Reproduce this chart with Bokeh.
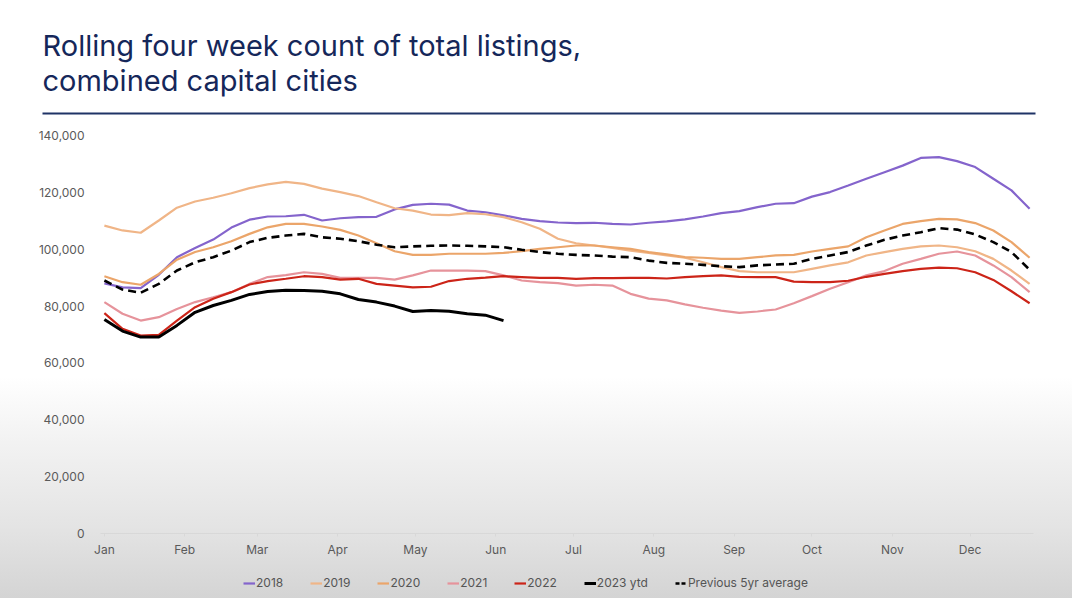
import pandas as pd
from bokeh.plotting import figure
from bokeh.models import (Range1d, MonthsTicker, DatetimeTickFormatter, NumeralTickFormatter,
                          FixedTicker, Legend, LegendItem, ColumnDataSource)
from bokeh.layouts import column
from bokeh.embed import file_html
from bokeh.resources import INLINE

# ---- data (thousands of listings, weekly, rolling four week count) ----
weeks = pd.date_range("2023-01-01", periods=52, freq="7D")

y2018 = [88.0, 86.6, 86.3, 91.0, 97.2, 100.4, 103.4, 107.6, 110.4, 111.5, 111.6, 112.1, 110.1,
         110.9, 111.3, 111.4, 114.0, 115.6, 116.0, 115.7, 113.6, 113.0, 111.9, 110.7, 109.9, 109.4,
         109.2, 109.3, 108.9, 108.7, 109.3, 109.8, 110.5, 111.5, 112.7, 113.4, 114.8, 116.0, 116.2,
         118.5, 120.1, 122.4, 124.8, 127.1, 129.4, 132.1, 132.4, 131.0, 128.9, 124.8, 120.7, 114.2]
y2019 = [108.3, 106.6, 105.8, 110.1, 114.6, 116.8, 118.1, 119.7, 121.5, 122.8, 123.7, 123.0, 121.3,
         120.1, 118.7, 116.5, 114.4, 113.6, 112.2, 112.0, 112.7, 112.3, 111.3, 109.5, 107.2, 103.7,
         102.1, 101.3, 100.5, 99.5, 98.7, 97.8, 97.0, 95.4, 93.7, 92.3, 91.9, 91.9, 91.9,
         93.1, 94.3, 95.4, 97.8, 99.0, 100.1, 101.0, 101.3, 100.7, 99.3, 96.6, 92.5, 87.8]
y2020 = [90.5, 88.4, 87.5, 91.3, 96.3, 99.0, 100.7, 102.8, 105.4, 107.7, 108.9, 108.9, 108.0,
         106.8, 104.8, 102.1, 99.3, 98.0, 98.0, 98.4, 98.4, 98.4, 98.7, 99.3, 100.1, 100.7,
         101.3, 101.3, 100.7, 100.1, 99.0, 98.2, 97.2, 97.0, 96.6, 96.6, 97.2, 97.8, 98.0,
         99.2, 100.1, 101.0, 104.2, 106.6, 108.9, 109.9, 110.7, 110.5, 109.2, 106.6, 102.5, 97.0]
y2021 = [81.4, 77.3, 74.9, 76.1, 79.0, 81.4, 83.1, 84.9, 87.8, 90.2, 90.9, 91.9, 91.3,
         89.9, 89.9, 89.9, 89.3, 90.8, 92.5, 92.5, 92.5, 92.3, 90.8, 89.0, 88.4, 88.1,
         87.2, 87.5, 87.2, 84.3, 82.6, 82.0, 80.6, 79.4, 78.4, 77.6, 78.1, 78.8, 81.0,
         83.5, 86.1, 88.4, 90.8, 92.3, 94.9, 96.6, 98.4, 99.2, 97.8, 94.3, 90.2, 84.9]
y2022 = [77.5, 72.0, 69.6, 69.9, 74.9, 79.6, 82.6, 84.9, 87.6, 88.8, 89.6, 90.5, 90.2,
         89.3, 89.6, 87.8, 87.2, 86.6, 86.8, 88.8, 89.6, 90.0, 90.5, 90.2, 89.9, 89.9,
         89.6, 89.8, 89.8, 89.9, 89.9, 89.7, 90.2, 90.5, 90.8, 90.3, 90.2, 90.2, 88.6,
         88.4, 88.4, 88.9, 90.3, 91.3, 92.3, 93.1, 93.5, 93.3, 91.9, 89.2, 85.2, 81.0]
y2023 = [75.3, 71.2, 69.1, 69.1, 73.2, 77.8, 80.2, 82.0, 84.1, 85.1, 85.6, 85.5, 85.2,
         84.3, 82.3, 81.4, 80.0, 78.1, 78.4, 78.2, 77.3, 76.8, 74.9]
avg5 = [89.0, 85.8, 84.7, 87.8, 92.5, 95.4, 97.2, 99.5, 102.5, 104.0, 104.8, 105.4, 104.2,
        103.7, 102.8, 101.6, 100.7, 101.0, 101.2, 101.3, 101.2, 101.0, 100.7, 99.8, 99.0, 98.4,
        98.0, 97.8, 97.4, 97.2, 96.0, 95.2, 94.9, 94.5, 94.0, 93.7, 94.3, 94.6, 94.9,
        96.6, 97.8, 99.0, 101.3, 103.3, 104.8, 106.0, 107.4, 106.9, 105.2, 102.5, 99.0, 92.8]

series_names = ["2018", "2019", "2020", "2021", "2022", "2023 ytd", "Previous 5yr average"]
y_ticks = [0, 20000, 40000, 60000, 80000, 100000, 120000, 140000]
title_text = "Rolling four week count of total listings,\ncombined capital cities"

# ---- styles ----
colors = ["#8464cc", "#f0b587", "#eba56a", "#e6939b", "#cc2418", "#000000", "#000000"]
widths = [2.2, 2.2, 2.2, 2.2, 2.2, 3.0, 2.6]
dashes = ["solid"] * 6 + ["8 5"]
FONT = "Inter"
W = 1072


def bare(fig):
    fig.background_fill_alpha = 0
    fig.border_fill_alpha = 0
    fig.outline_line_color = None
    fig.grid.grid_line_color = None
    fig.frame_align = False


# ---- top: title and rule ----
top = figure(width=W, height=120, output_backend="svg", toolbar_location=None,
             x_range=Range1d(0, 1), y_range=Range1d(0, 1), y_axis_location=None,
             min_border_left=42, min_border_right=W - 1035, min_border_top=100, min_border_bottom=7)
bare(top)
top.title.text = title_text
top.title.text_font = FONT
top.title.text_font_size = "29px"
top.title.text_font_style = "normal"
top.title.text_color = "#15275a"
top.title.align = "left"
top.title.standoff = 5
tx = top.xaxis[0]
tx.ticker = FixedTicker(ticks=[])
tx.axis_line_color = "#1f3366"
tx.axis_line_width = 2
tx.major_tick_line_color = None
tx.minor_tick_line_color = None
tx.major_label_text_font_size = "0px"
tx.major_label_standoff = 0

# ---- main chart ----
pad = pd.Timedelta(days=1.5)
p = figure(width=W, height=445, output_backend="svg", toolbar_location=None,
           x_axis_type="datetime",
           x_range=Range1d(weeks[0] - pad, weeks[-1] + pad),
           y_range=Range1d(0, 140000),
           min_border_left=100, min_border_right=W - 1033, min_border_top=15, min_border_bottom=32)
bare(p)

data = dict(date=weeks, y2018=[v * 1000 for v in y2018],
            y2019=[v * 1000 for v in y2019], y2020=[v * 1000 for v in y2020],
            y2021=[v * 1000 for v in y2021], y2022=[v * 1000 for v in y2022],
            avg=[v * 1000 for v in avg5])
data23 = dict(date=weeks[:len(y2023)], y=[v * 1000 for v in y2023])
src = ColumnDataSource(data)
src23 = ColumnDataSource(data23)

cols = ["y2018", "y2019", "y2020", "y2021", "y2022", "y", "avg"]
order = [0, 1, 2, 3, 4, 6, 5]   # draw 2023 last, on top
for i in order:
    p.line("date", cols[i], source=(src23 if cols[i] == "y" else src),
           line_color=colors[i], line_width=widths[i], line_dash=dashes[i])

xa = p.xaxis[0]
xa.ticker = MonthsTicker(months=list(range(12)))
xa.formatter = DatetimeTickFormatter(months="%b", days="%b", years="%b")
xa.axis_line_color = "#d8d8d8"
xa.major_tick_line_color = "#d8d8d8"
xa.major_tick_in = 0
xa.major_tick_out = 3
xa.minor_tick_line_color = None
xa.major_label_text_font = FONT
xa.major_label_text_font_size = "12px"
xa.major_label_text_color = "#5a5a5a"
xa.major_label_standoff = 5

ya = p.yaxis[0]
ya.ticker = FixedTicker(ticks=y_ticks)
ya.formatter = NumeralTickFormatter(format="0,0")
ya.axis_line_color = None
ya.major_tick_line_color = None
ya.minor_tick_line_color = None
ya.major_label_text_font = FONT
ya.major_label_text_font_size = "12px"
ya.major_label_text_color = "#5a5a5a"
ya.major_label_standoff = 10

# ---- legend strip (its lines reuse the same data but lie outside this strip's view) ----
leg = figure(width=W, height=33, output_backend="svg", toolbar_location=None,
             x_range=Range1d(0, 1), y_range=Range1d(0, 1),
             x_axis_location=None, y_axis_location=None,
             min_border_left=0, min_border_right=0, min_border_top=0, min_border_bottom=0)
bare(leg)
lsrc = ColumnDataSource(data)
lsrc23 = ColumnDataSource(data23)
items = []
for i, name in enumerate(series_names):
    r = leg.line("date", cols[i], source=(lsrc23 if cols[i] == "y" else lsrc),
                 line_color=colors[i], line_width=widths[i],
                 line_dash=("4 2" if dashes[i] != "solid" else "solid"))
    items.append(LegendItem(label=name, renderers=[r]))
legend = Legend(items=items, orientation="horizontal", location=(243, 8),
                label_text_font=FONT, label_text_font_size="12px", label_text_color="#555555",
                glyph_width=12, glyph_height=12, label_standoff=1, spacing=27,
                label_height=12, padding=0, margin=0,
                border_line_alpha=0, background_fill_alpha=0)
leg.add_layout(legend)

layout = column(top, p, leg, spacing=0,
                styles={"background": "linear-gradient(to bottom, #ffffff 0%, #ffffff 63%, "
                                      "#f2f2f2 74%, #e4e4e4 88%, #d4d4d4 100%)"})

open("out.html", "w").write(file_html(layout, INLINE))
